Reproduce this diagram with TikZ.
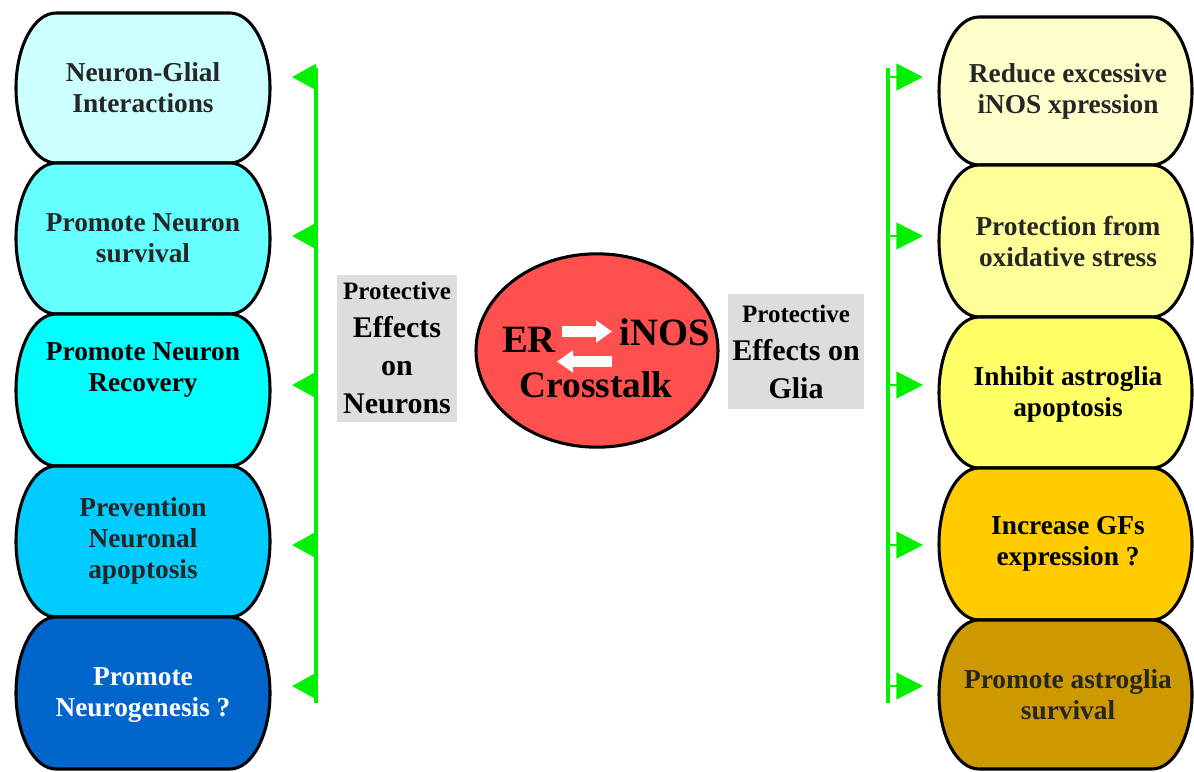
\documentclass[tikz,border=0pt]{standalone}
\usepackage{fontspec}
\setmainfont{Liberation Serif}
\usepackage{xcolor}
\usetikzlibrary{arrows.meta,positioning,shapes.geometric,calc}

\definecolor{neurA}{HTML}{CCFFFF}
\definecolor{neurB}{HTML}{66FFFF}
\definecolor{neurC}{HTML}{00FFFF}
\definecolor{neurD}{HTML}{00CCFF}
\definecolor{neurE}{HTML}{0066CC}
\definecolor{gliaA}{HTML}{FFFFCC}
\definecolor{gliaB}{HTML}{FFFF99}
\definecolor{gliaC}{HTML}{FFFF66}
\definecolor{gliaD}{HTML}{FFCC00}
\definecolor{gliaE}{HTML}{CC9900}
\definecolor{coral}{HTML}{FF5050}
\definecolor{panelgray}{HTML}{DDDDDD}
\definecolor{lime}{HTML}{00F000}
\definecolor{txtgray}{HTML}{262626}

\tikzset{
  capsule/.style={draw=black,line width=2.3pt},
  lbl/.style={font=\bfseries\fontsize{20.5pt}{23.25pt}\selectfont,align=center,
              text=txtgray,inner sep=0pt},
  fxpanel/.style={fill=panelgray,inner sep=0pt,align=center,
                  font=\bfseries\fontsize{22.5pt}{28.5pt}\selectfont},
  limeline/.style={lime,line width=3pt},
  ltip/.style={lime,line width=3pt,-{Triangle[length=18pt,width=19pt]}},
  rtip/.style={lime,line width=2pt,-{Triangle[length=20pt,width=20pt]}},
  whitearrow/.style={white,line width=8pt,-{Triangle[length=12pt,width=16pt]}},
}

\begin{document}
\begin{tikzpicture}[x=0.75pt,y=-0.75pt]
  \useasboundingbox (0,0) rectangle (1194,771);

  % neuron side boxes
  \foreach \t/\b/\c [evaluate=\b as \ry using (\b-\t)/2] in
      {13/163/neurA,163/314/neurB,314/466/neurC,466/617/neurD,617/769/neurE}
    \filldraw[capsule,fill=\c] (56,\t) -- (230,\t)
      arc[start angle=-90,end angle=90,x radius=40,y radius=\ry] -- (56,\b)
      arc[start angle=90,end angle=270,x radius=40,y radius=\ry] -- cycle;

  % glia side boxes
  \foreach \t/\b/\c [evaluate=\b as \ry using (\b-\t)/2] in
      {17/165/gliaA,165/317/gliaB,317/468/gliaC,468/620/gliaD,620/769/gliaE}
    \filldraw[capsule,fill=\c] (979,\t) -- (1152,\t)
      arc[start angle=-90,end angle=90,x radius=40,y radius=\ry] -- (979,\b)
      arc[start angle=90,end angle=270,x radius=40,y radius=\ry] -- cycle;

  \node[lbl] (glial) at (143,88) {Neuron-Glial\\Interactions};
  \node[lbl] (nsurv) at (143,238) {Promote Neuron\\survival};
  \node[lbl,text=black] (nrecov) at (143,370) {Promote Neuron\\Recovery};
  \node[lbl] (napop) at (143,541) {Prevention\\Neuronal\\apoptosis};
  \node[lbl,text=white] (ngenes) at (143,695) {Promote\\Neurogenesis ?};

  \node[lbl] (inos) at (1068,91) {Reduce excessive\\iNOS xpression};
  \node[lbl] (oxid) at (1068,242) {Protection from\\oxidative stress};
  \node[lbl,text=black] (aapop) at (1068,394) {Inhibit astroglia\\apoptosis};
  \node[lbl,text=black] (gfs) at (1068,544) {Increase GFs\\expression ?};
  \node[lbl] (asurv) at (1068,695) {Promote astroglia\\survival};

  % centre
  \node[ellipse,draw,line width=2.3pt,fill=coral,minimum width=181.5pt,
        minimum height=145pt] (core) at (597,350.5) {};
  \node[anchor=base,font=\bfseries\fontsize{29pt}{30pt}\selectfont] (er) at (529,352) {ER};
  \node[anchor=base,font=\bfseries\fontsize{29pt}{30pt}\selectfont] (nos) at (665,345) {iNOS};
  \node[anchor=base,font=\bfseries\fontsize{28pt}{30pt}\selectfont] (talk) at (596,397) {Crosstalk};
  \draw[whitearrow] ($(core)+(-35,-19)$) -- ++(50,0);
  \draw[whitearrow] ($(core)+(15,11)$) -- ++(-55,0);

  \node[fxpanel,minimum width=90pt,minimum height=110pt] (neurfx) at (397,348.5)
    {{\fontsize{18.75pt}{28.5pt}\selectfont Protective}\\Effects\\on\\Neurons};
  \node[fxpanel,minimum width=102pt,minimum height=86pt] (gliafx) at (796,351.5)
    {{\fontsize{18.75pt}{28.5pt}\selectfont Protective}\\Effects on\\Glia};

  % green brackets
  \draw[limeline] (316,68) coordinate (ltop) -- (316,703) coordinate (lbot);
  \draw[limeline] (888,68) coordinate (rtop) -- (888,703) coordinate (rbot);
  \foreach \y in {77,236,385,545,686}{
    \coordinate (l\y) at (ltop |- 0,\y);
    \coordinate (r\y) at (rtop |- 0,\y);
    \draw[ltip] (l\y) -- ++(-24,0);
    \draw[rtip] (r\y) -- ++(35,0);
  }
\end{tikzpicture}
\end{document}
